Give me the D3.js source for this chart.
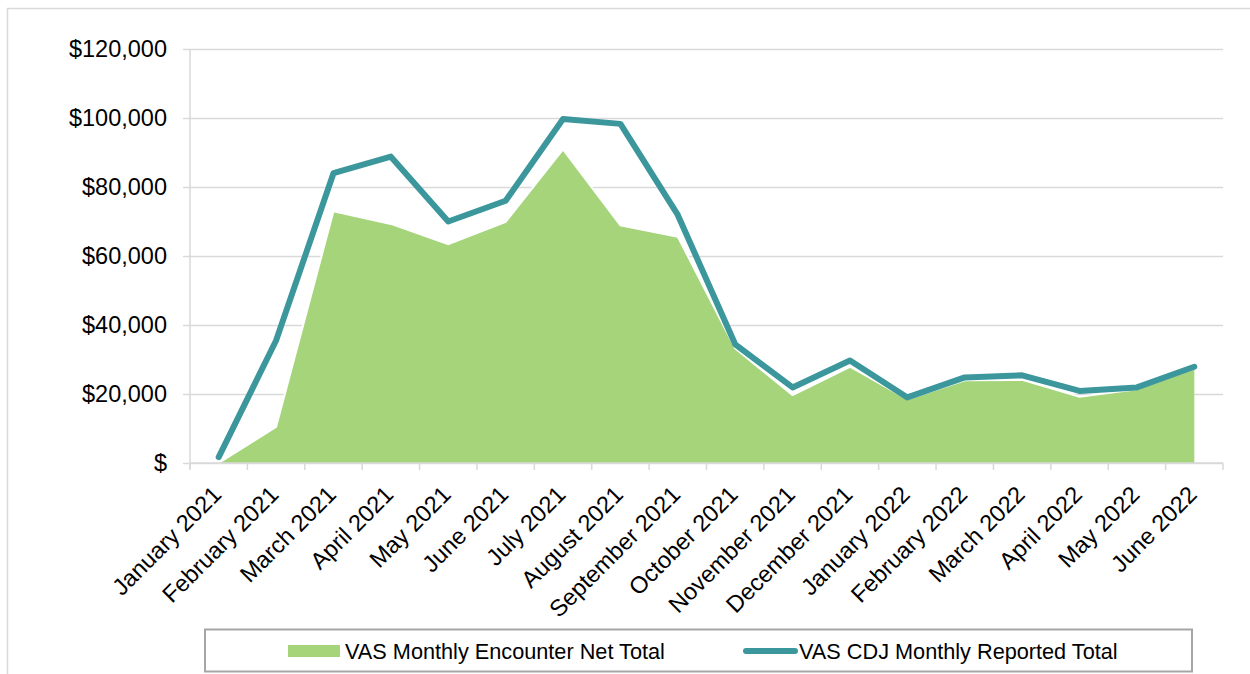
<!DOCTYPE html>
<html>
<head>
<meta charset="utf-8">
<script src="https://cdn.jsdelivr.net/npm/d3@7"></script>
<style>
  body { margin: 0; background: #fff; }
  svg { display: block; font-family: "Liberation Sans", Arial, sans-serif; }
</style>
</head>
<body>
<div id="chart"></div>
<script>
// chart data
var months = [
  'January 2021', 'February 2021', 'March 2021', 'April 2021', 'May 2021',
  'June 2021', 'July 2021', 'August 2021', 'September 2021', 'October 2021',
  'November 2021', 'December 2021', 'January 2022', 'February 2022',
  'March 2022', 'April 2022', 'May 2022', 'June 2022'
];
var encounterNet = [
  0, 10500, 73000, 69300, 63400, 69900, 90900, 68900, 65600, 33200,
  19700, 27900, 18500, 24000, 24100, 19200, 21400, 27400
];
var cdjReported = [
  1700, 35500, 84000, 88800, 70000, 76000, 99700, 98300, 71900, 34400,
  21900, 29700, 19000, 24800, 25400, 20900, 21900, 27900
];
var yTicks = [0, 20000, 40000, 60000, 80000, 100000, 120000];
var seriesNames = ['VAS Monthly Encounter Net Total', 'VAS CDJ Monthly Reported Total'];

(function () {
  'use strict';

  var W = 1250, H = 674;
  var plot = { left: 190, right: 1223, top: 49, bottom: 463 };
  var GREEN = '#a5d47b', TEAL = '#3c979c', GRID = '#d9d9d9';

  var svg = d3.select('#chart').append('svg')
      .attr('width', W)
      .attr('height', H);

  // outer chart frame
  svg.append('rect')
      .attr('x', 7.5).attr('y', 8.5)
      .attr('width', W + 20).attr('height', H + 20)
      .style('fill', '#fff')
      .style('stroke', GRID)
      .style('stroke-width', 1.5);

  var x = d3.scaleBand()
      .domain(months)
      .range([plot.left, plot.right]);

  var y = d3.scaleLinear()
      .domain([0, 120000])
      .range([plot.bottom, plot.top]);

  var cx = function (d, i) { return x(months[i]) + x.bandwidth() / 2; };

  // y axis: gridlines + labels
  var fmt = function (v) { return v === 0 ? '$' : '$' + d3.format(',')(v); };
  var yAxis = svg.append('g')
      .attr('transform', 'translate(' + plot.left + ',0)')
      .call(d3.axisLeft(y)
        .tickValues(yTicks)
        .tickFormat(fmt)
        .tickSize(-(plot.right - plot.left))
        .tickPadding(23));
  yAxis.select('.domain').remove();
  yAxis.selectAll('.tick line')
      .attr('x1', -7)
      .style('stroke', GRID)
      .style('stroke-width', 1.5);
  yAxis.selectAll('.tick text')
      .style('font-size', '23.5px')
      .style('fill', '#000');

  // vertical axis line
  svg.append('line')
      .attr('x1', plot.left).attr('x2', plot.left)
      .attr('y1', plot.top).attr('y2', plot.bottom + 6)
      .style('stroke', GRID)
      .style('stroke-width', 1.5);

  // area for encounter net totals
  var area = d3.area()
      .x(cx)
      .y0(y(0))
      .y1(function (d) { return y(d); });
  svg.append('path')
      .datum(encounterNet)
      .attr('d', area)
      .style('fill', GREEN);

  // thin white edge along the top of the area
  svg.append('path')
      .datum(encounterNet)
      .attr('d', d3.line().x(cx).y(function (d) { return y(d); }))
      .style('fill', 'none')
      .style('stroke', '#fff')
      .style('stroke-width', 2);

  // x axis line and tick marks at band edges
  var xAxis = svg.append('g');
  xAxis.append('line')
      .attr('x1', plot.left).attr('x2', plot.right)
      .attr('y1', plot.bottom).attr('y2', plot.bottom)
      .style('stroke', GRID)
      .style('stroke-width', 1.5);
  xAxis.selectAll('line.tk')
      .data(months.concat(['end']))
      .enter().append('line')
      .attr('class', 'tk')
      .attr('x1', function (d, i) { return i < months.length ? x(d) : plot.right; })
      .attr('x2', function (d, i) { return i < months.length ? x(d) : plot.right; })
      .attr('y1', plot.bottom)
      .attr('y2', plot.bottom + 7)
      .style('stroke', GRID)
      .style('stroke-width', 1.5);

  xAxis.selectAll('text')
      .data(months)
      .enter().append('text')
      .attr('transform', function (d, i) {
        return 'translate(' + (cx(d, i) + 4) + ',' + (plot.bottom + 33) + ') rotate(-45)';
      })
      .attr('text-anchor', 'end')
      .style('font-size', '23.5px')
      .style('fill', '#000')
      .text(function (d) { return d; });

  // reported total line
  svg.append('path')
      .datum(cdjReported)
      .attr('d', d3.line().x(cx).y(function (d) { return y(d); }))
      .style('fill', 'none')
      .style('stroke', TEAL)
      .style('stroke-width', 6)
      .style('stroke-linejoin', 'round')
      .style('stroke-linecap', 'round');

  // legend
  var legend = svg.append('g');
  legend.append('rect')
      .attr('x', 205).attr('y', 629.5)
      .attr('width', 987).attr('height', 42)
      .style('fill', '#fff')
      .style('stroke', '#a6a6a6')
      .style('stroke-width', 2);

  legend.append('rect')
      .attr('x', 288).attr('y', 645)
      .attr('width', 52).attr('height', 12)
      .style('fill', GREEN);
  legend.append('text')
      .attr('x', 345).attr('y', 659)
      .style('font-size', '21.7px')
      .text(seriesNames[0]);

  legend.append('line')
      .attr('x1', 746).attr('x2', 795)
      .attr('y1', 651).attr('y2', 651)
      .style('stroke', TEAL)
      .style('stroke-width', 6)
      .style('stroke-linecap', 'round');
  legend.append('text')
      .attr('x', 799).attr('y', 659)
      .style('font-size', '21.7px')
      .text(seriesNames[1]);
})();
</script>
</body>
</html>
